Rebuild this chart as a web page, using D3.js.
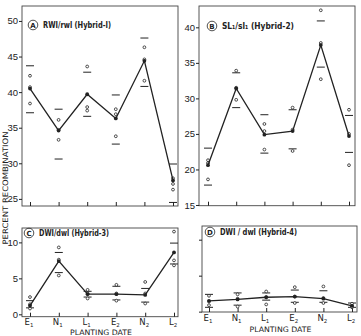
<!DOCTYPE html>
<html>
<head>
<meta charset="utf-8">
<script src="https://cdn.jsdelivr.net/npm/d3@7"></script>
<style>
  body { margin: 0; background: #fff; }
  svg { display: block; }
  text { font-family: "DejaVu Sans", sans-serif; fill: #222; }
</style>
</head>
<body>
<svg id="chart" width="361" height="336"></svg>
<script>
const dates = ["E1", "N1", "L1", "E2", "N2", "L2"]
const dateSub = { E1: ["E", "1"], N1: ["N", "1"], L1: ["L", "1"], E2: ["E", "2"], N2: ["N", "2"], L2: ["L", "2"] }

// Hybrid-1 RWI/rwl
const meanA = [40.5, 34.6, 39.7, 36.3, 44.4, 27.6]
const obsA = [[42.3, 40.7, 38.4], [36.1, 34.7, 33.3], [43.6, 37.9, 37.4], [37.6, 36.9, 33.8], [46.3, 44.6, 41.6], [27.9, 27.1, 26.3]]
const hiA = [43.7, 37.6, 42.8, 39.6, 47.6, 29.9]
const loA = [37.1, 30.6, 36.6, 32.7, 40.8, 24.5]

// Hybrid-2 SL1/sl1
const meanB = [20.6, 31.4, 24.9, 25.4, 37.5, 24.7]
const obsB = [[21.3, 20.9, 18.6], [33.9, 31.5, 29.8], [26.4, 25.4, 22.8], [28.7, 25.6, 22.6], [42.4, 37.8, 32.7], [28.4, 25.0, 20.6]]
const hiB = [23.0, 33.6, 27.7, 28.4, 40.9, 27.6]
const loB = [17.8, 28.7, 22.3, 22.9, 34.4, 22.4]

// Hybrid-3 DWI/dwl
const meanC = [1.2, 7.4, 2.8, 2.8, 2.7, 8.6]
const obsC = [[2.4, 1.4, 0.8], [9.3, 7.6, 5.4], [3.4, 2.9, 2.2], [4.1, 2.9, 1.9], [4.5, 2.9, 1.5], [11.5, 7.5, 6.8]]
const hiC = [1.9, 8.6, 3.2, 3.9, 3.6, 9.9]
const loC = [0.9, 5.8, 2.4, 2.0, 1.7, 7.0]

// Hybrid-4 DWI/dwl
const meanD = [1.5, 1.7, 2.0, 2.1, 1.8, 0.8]
const obsD = [[2.2, 1.4, 0.9], [2.4, 1.8, 0.7], [2.8, 2.0, 1.0], [3.4, 2.1, 1.2], [3.5, 1.9, 1.2], [1.1, 0.8, 0.6]]
const hiD = [2.4, 2.6, 2.6, 3.0, 2.9, 1.2]
const loD = [0.6, 0.9, 1.6, 1.3, 1.3, 0.6]

const yTicksA = [25, 30, 35, 40, 45, 50]
const yTicksB = [15, 20, 25, 30, 35, 40]
const yTicksCD = [0, 5, 10]

const svg = d3.select("#chart")
const ink = "#222"

const panels = [
  { box: [22, 6, 178, 206], xr: [30, 173], yd: [24, 52.1], ticks: yTicksA, labels: true,
    mean: meanA, obs: obsA, hi: hiA, lo: loA, letter: "A", title: "RWI/rwl (Hybrid-I)", tx: 33, ty: 28, tw: 68, dateLabels: false },
  { box: [199, 6, 355, 205.7], xr: [208, 349], yd: [14.9, 43], ticks: yTicksB, labels: true,
    mean: meanB, obs: obsB, hi: hiB, lo: loB, letter: "B", title: "SL\u2081/sl\u2081 (Hybrid-2)", tx: 212, ty: 29, tw: 72, dateLabels: false },
  { box: [22, 228, 178, 316.7], xr: [30, 174], yd: [-0.33, 12], ticks: yTicksCD, labels: true,
    mean: meanC, obs: obsC, hi: hiC, lo: loC, letter: "C", title: "DWI/dwl (Hybrid-3)", tx: 29, ty: 236, tw: 70, dateLabels: true, ly: 325, py: 335 },
  { box: [202, 226, 357, 312], xr: [209, 352], yd: [-0.05, 11.9], ticks: yTicksCD, labels: false,
    mean: meanD, obs: obsD, hi: hiD, lo: loD, letter: "D", title: "DWI / dwl (Hybrid-4)", tx: 210, ty: 235, tw: 77, dateLabels: true, ly: 321, py: 332 }
]

panels.forEach(p => {
  const [x0, y0, x1, y1] = p.box
  const x = d3.scalePoint().domain(dates).range(p.xr)
  const y = d3.scaleLinear().domain(p.yd).range([y1, y0])
  const g = svg.append("g")

  g.append("rect")
    .attr("x", x0).attr("y", y0).attr("width", x1 - x0).attr("height", y1 - y0)
    .attr("fill", "none").attr("stroke", "#444").attr("stroke-width", 0.9)

  // y axis
  const ya = g.append("g").attr("transform", `translate(${x0},0)`)
    .call(d3.axisLeft(y).tickValues(p.ticks).tickSize(3).tickPadding(1)
      .tickFormat(p.labels ? d3.format("d") : () => ""))
  ya.select(".domain").remove()
  ya.selectAll("line").attr("stroke", ink)
  ya.selectAll("text").style("font-family", "'Liberation Sans', sans-serif")
    .style("font-size", "9.5px").attr("fill", ink)

  // bottom ticks
  const xa = g.append("g").attr("transform", `translate(0,${y1})`)
    .call(d3.axisBottom(x).tickSizeInner(-4).tickSizeOuter(0).tickFormat(() => ""))
  xa.select(".domain").remove()
  xa.selectAll("line").attr("stroke", ink)

  if (p.dateLabels) {
    dates.forEach(d => {
      const t = g.append("text").attr("x", x(d) - 1).attr("y", p.ly)
        .attr("text-anchor", "middle").style("font-size", "8.5px")
      t.append("tspan").text(dateSub[d][0])
      t.append("tspan").attr("dy", 2).style("font-size", "5.5px").text(dateSub[d][1])
    })
    g.append("text").attr("x", (x0 + x1) / 2 + 1).attr("y", p.py)
      .attr("text-anchor", "middle").style("font-size", "7.5px")
      .attr("textLength", 62).attr("lengthAdjust", "spacingAndGlyphs")
      .text("PLANTING DATE")
  }

  // limits
  g.selectAll(".hi").data(p.hi).join("line")
    .attr("x1", (d, i) => x(dates[i]) - 4).attr("x2", (d, i) => x(dates[i]) + 4)
    .attr("y1", d => y(d)).attr("y2", d => y(d))
    .attr("stroke", ink).attr("stroke-width", 1)
  g.selectAll(".lo").data(p.lo).join("line")
    .attr("x1", (d, i) => x(dates[i]) - 4).attr("x2", (d, i) => x(dates[i]) + 4)
    .attr("y1", d => y(d)).attr("y2", d => y(d))
    .attr("stroke", ink).attr("stroke-width", 1)

  // observations
  p.obs.forEach((arr, i) => {
    g.selectAll(null).data(arr).join("circle")
      .attr("cx", x(dates[i])).attr("cy", d => y(d)).attr("r", 1.4)
      .attr("fill", "#fff").attr("stroke", ink).attr("stroke-width", 0.8)
  })

  // mean line
  const line = d3.line().x((d, i) => x(dates[i])).y(d => y(d))
  g.append("path").datum(p.mean).attr("d", line)
    .attr("fill", "none").attr("stroke", ink).attr("stroke-width", 1.3)
  g.selectAll(".m").data(p.mean).join("circle")
    .attr("cx", (d, i) => x(dates[i])).attr("cy", d => y(d)).attr("r", 1.9)
    .attr("fill", ink)

  // title
  g.append("circle").attr("cx", p.tx).attr("cy", p.ty - 3).attr("r", 4.8)
    .attr("fill", "none").attr("stroke", ink).attr("stroke-width", 0.8)
  g.append("text").attr("x", p.tx).attr("y", p.ty - 0.5).attr("text-anchor", "middle")
    .style("font-size", "7px").style("font-weight", "bold").text(p.letter)
  g.append("text").attr("x", p.tx + 10).attr("y", p.ty)
    .style("font-size", "8px").style("font-weight", "bold")
    .attr("textLength", p.tw).attr("lengthAdjust", "spacingAndGlyphs")
    .text(p.title)
})

svg.append("text")
  .attr("transform", "translate(7.5,188) rotate(-90)")
  .attr("text-anchor", "middle").style("font-size", "7.5px")
  .attr("textLength", 113).attr("lengthAdjust", "spacingAndGlyphs")
  .text("PERCENT RECOMBINATION")
</script>
</body>
</html>
